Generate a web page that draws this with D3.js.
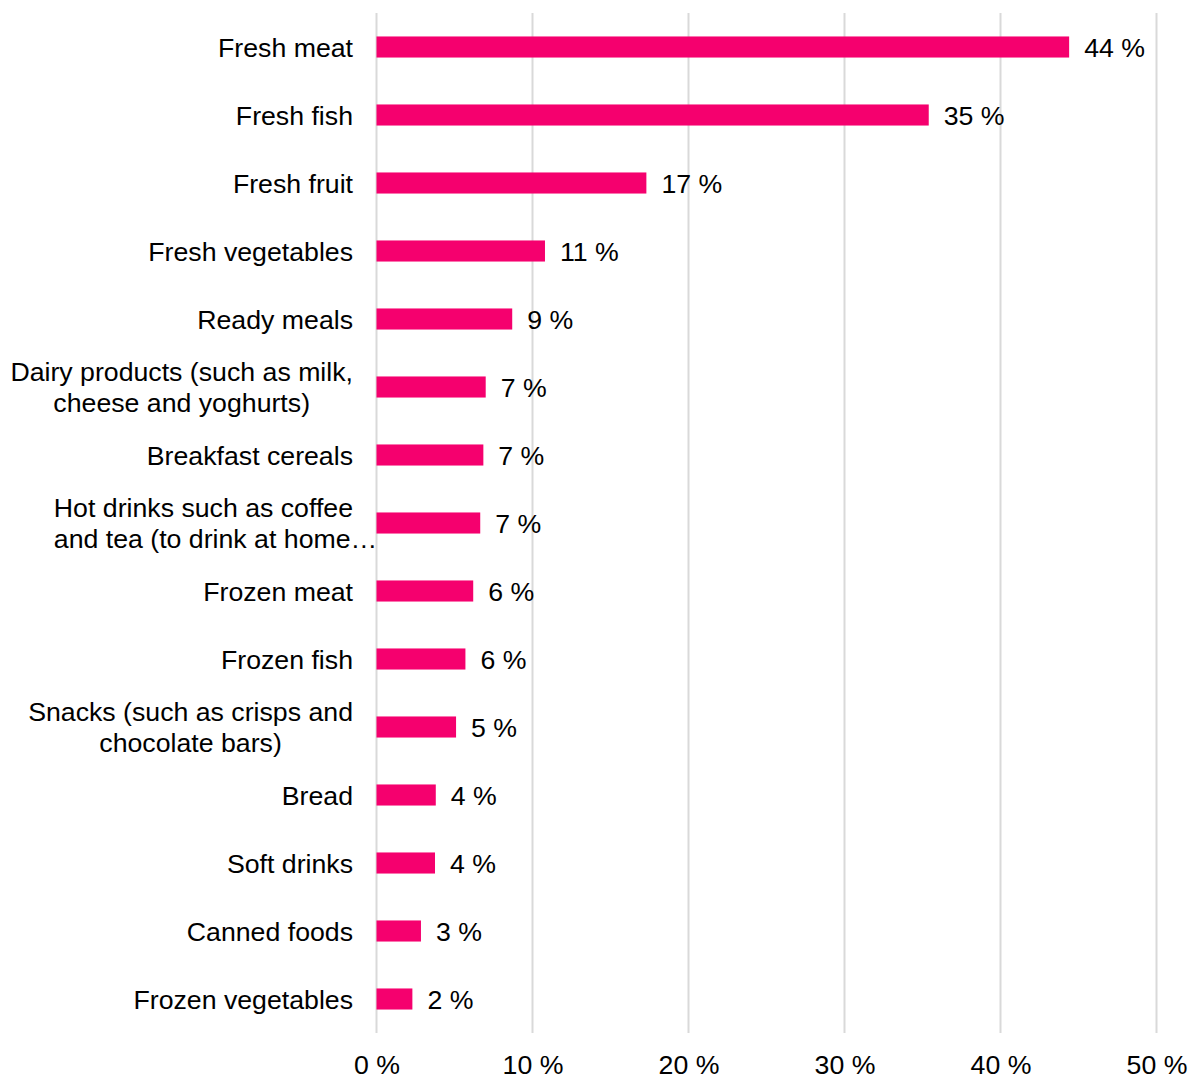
<!DOCTYPE html>
<html>
<head>
<meta charset="utf-8">
<script src="https://cdn.jsdelivr.net/npm/d3@7"></script>
<style>
  html, body { margin: 0; padding: 0; background: #fff; }
  svg { display: block; font-family: "Liberation Sans", Arial, sans-serif; }
</style>
</head>
<body>
<svg id="chart" width="1189" height="1077"></svg>
<script>
// Food categories (each entry is a list of label lines)
const categories = [
  ["Fresh meat"],
  ["Fresh fish"],
  ["Fresh fruit"],
  ["Fresh vegetables"],
  ["Ready meals"],
  ["Dairy products (such as milk,", "cheese and yoghurts)"],
  ["Breakfast cereals"],
  ["Hot drinks such as coffee", "and tea (to drink at home…"],
  ["Frozen meat"],
  ["Frozen fish"],
  ["Snacks (such as crisps and", "chocolate bars)"],
  ["Bread"],
  ["Soft drinks"],
  ["Canned foods"],
  ["Frozen vegetables"]
];

// Share of respondents, in percent
const values = [44.4, 35.4, 17.3, 10.8, 8.7, 7.0, 6.85, 6.65, 6.2, 5.7, 5.1, 3.8, 3.75, 2.85, 2.3];

// Axis ticks, in percent
const ticks = [0, 10, 20, 30, 40, 50];

const plot = { left: 376.5, right: 1156.5, top: 13, bottom: 1033 };
const fontSize = 26.7;
const barColor = "#f5006e";
const gridColor = "#d9d9d9";

const svg = d3.select("#chart");
const rows = categories.map((c, i) => ({ key: i, lines: c, value: values[i] }));

const x = d3.scaleLinear().domain([0, 50]).range([plot.left, plot.right]);
const y = d3.scaleBand()
  .domain(rows.map(d => d.key))
  .range([plot.top, plot.bottom])
  .paddingInner(0.69)
  .paddingOuter(0.345);

// Vertical gridlines
svg.append("g")
  .selectAll("line")
  .data(ticks)
  .join("line")
  .attr("x1", d => x(d)).attr("x2", d => x(d))
  .attr("y1", plot.top).attr("y2", plot.bottom)
  .attr("stroke", gridColor)
  .attr("stroke-width", 2);

// Bottom axis labels
const xAxis = d3.axisBottom(x)
  .tickValues(ticks)
  .tickSize(0)
  .tickPadding(0)
  .tickFormat(d => d + " %");
const ax = svg.append("g")
  .attr("transform", `translate(0, 1074)`)
  .call(xAxis);
ax.select(".domain").remove();
ax.selectAll("text")
  .attr("dy", null)
  .attr("y", 0)
  .attr("font-size", fontSize)
  .attr("font-family", "Liberation Sans, Arial, sans-serif")
  .attr("fill", "#000");

// Bars
svg.append("g")
  .selectAll("rect")
  .data(rows)
  .join("rect")
  .attr("x", x(0))
  .attr("y", d => y(d.key))
  .attr("width", d => x(d.value) - x(0))
  .attr("height", y.bandwidth())
  .attr("fill", barColor);

// Value labels
const fmt = d3.format(".0f");
svg.append("g")
  .selectAll("text")
  .data(rows)
  .join("text")
  .attr("x", d => x(d.value) + 15)
  .attr("y", d => y(d.key) + y.bandwidth() / 2)
  .attr("dy", "0.37em")
  .attr("font-size", fontSize)
  .attr("fill", "#000")
  .text(d => fmt(d.value) + " %");

// Category labels: wrapped labels are centred as a block whose right edge sits at labelRight
const labelRight = 353;
const lineH = 31;
const labelG = svg.append("g").attr("font-size", fontSize).attr("fill", "#000");
rows.forEach(d => {
  const cy = y(d.key) + y.bandwidth() / 2;
  const n = d.lines.length;
  if (n === 1) {
    labelG.append("text")
      .attr("x", labelRight).attr("y", cy).attr("dy", "0.37em")
      .attr("text-anchor", "end")
      .text(d.lines[0]);
    return;
  }
  const texts = d.lines.map((line, i) =>
    labelG.append("text")
      .attr("y", cy + (i - (n - 1) / 2) * lineH)
      .attr("dy", "0.37em")
      .text(line));
  const widths = texts.map(t => t.node().getComputedTextLength());
  const blockW = widths[0];
  const blockStart = labelRight - blockW;
  const centre = labelRight - blockW / 2;
  texts.forEach((t, i) => {
    const start = Math.max(centre - widths[i] / 2, blockStart);
    t.attr("x", start);
  });
});
</script>
</body>
</html>
